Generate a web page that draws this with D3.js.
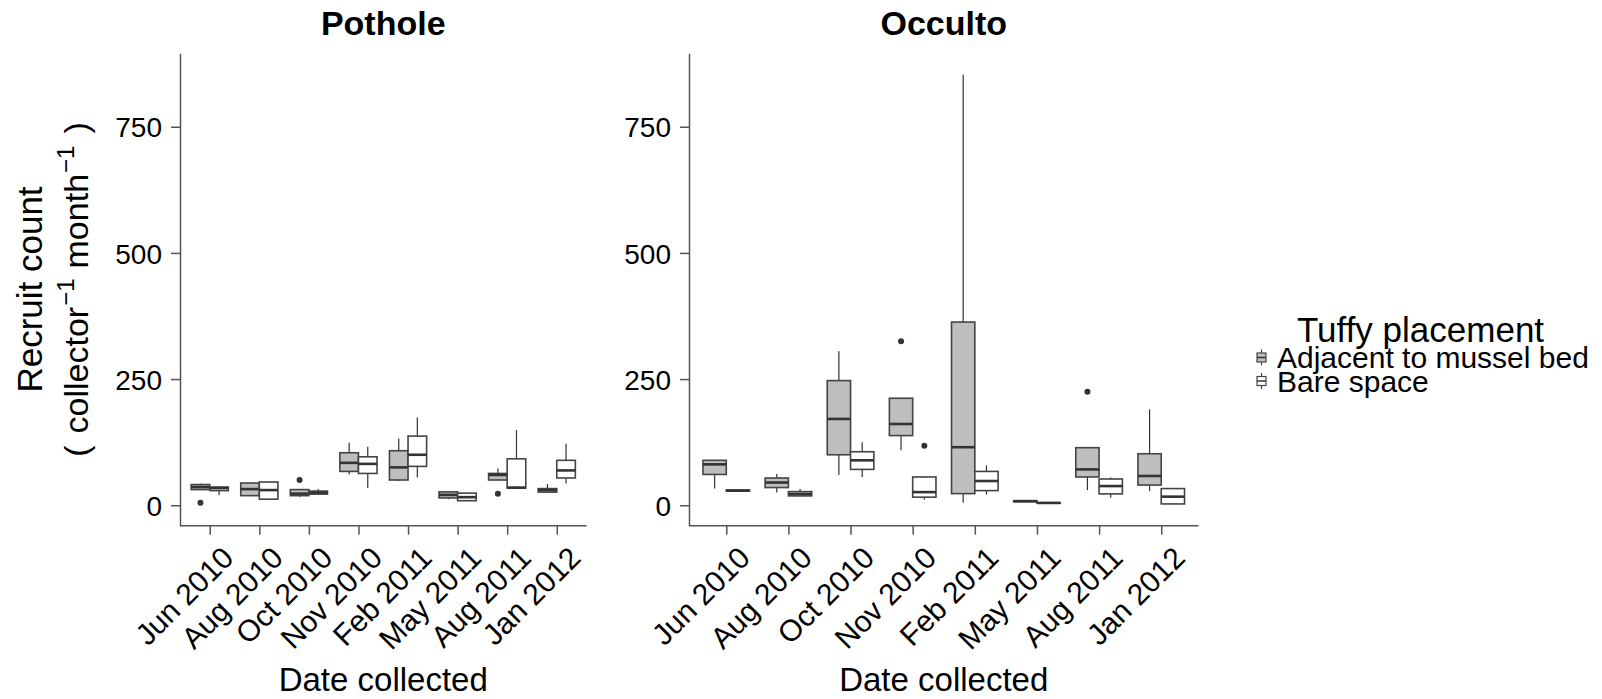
<!DOCTYPE html>
<html>
<head>
<meta charset="utf-8">
<script src="https://cdn.jsdelivr.net/npm/d3@7"></script>
<style>
  html, body { margin: 0; padding: 0; background: #fff; }
  svg { display: block; font-family: "Liberation Sans", Arial, sans-serif; }
</style>
</head>
<body>
<svg id="chart" width="1602" height="699"></svg>
<script>
// Collection dates (x categories)
const dates = ["Jun 2010", "Aug 2010", "Oct 2010", "Nov 2010", "Feb 2011", "May 2011", "Aug 2011", "Jan 2012"];
const groups = ["Adjacent to mussel bed", "Bare space"];
const yTicks = [0, 250, 500, 750];

// Box statistics per date: [lower whisker, Q1, median, Q3, upper whisker]
const potholeAdjacent = [
  [31, 31, 36, 41, 43], [18, 19, 32, 44, 45], [16.5, 19, 23, 31, 31], [61, 67, 84, 104, 124],
  [48, 50, 75, 108, 132], [12, 14.5, 20.5, 26.5, 28], [50, 50, 60, 63, 73], [26, 26, 30, 33, 42]
];
const potholeBare = [
  [20, 29, 34, 36, 37], [12, 12, 30, 46, 46], [22, 22, 25, 28, 32], [34, 63, 82, 96, 116],
  [55, 77, 100, 137, 174], [9, 9, 16, 24, 25], [34, 34, 35, 92, 149], [43, 54, 69, 89, 122]
];
const occultoAdjacent = [
  [33, 61, 81, 89, 89], [25, 35, 45, 54, 62], [60, 100, 171, 247, 305], [109, 138, 161, 212, 212],
  [5, 23, 115, 363, 853], [7, 7, 8, 9, 9], [30, 56, 71, 114, 114], [28, 40, 58, 102, 190]
];
const occultoBare = [
  [28, 28, 29, 30, 30], [18, 18.5, 22.5, 27, 32], [56, 71, 89, 106, 125], [11, 16, 26, 56, 56],
  [21, 29, 48, 67, 79], [4, 4, 4.6, 5, 5], [15, 22.5, 38, 52, 55], [2, 2.6, 17, 33, 34]
];

// Outlying points: [date, group index, value]
const potholeOutliers = [["Jun 2010", 0, 5], ["Oct 2010", 0, 50], ["Aug 2011", 0, 23]];
const occultoOutliers = [["Nov 2010", 0, 325], ["Nov 2010", 1, 118], ["Aug 2011", 0, 225]];

const fills = ["#bebebe", "#ffffff"];
const ink = "#333333";
const axisColor = "#555555";

const svg = d3.select("#chart");

// Shared y scale across both panels (5% expansion around the data range)
const allVals = [potholeAdjacent, potholeBare, occultoAdjacent, occultoBare].flat(2)
  .concat(potholeOutliers.map(d => d[2]), occultoOutliers.map(d => d[2]));
const yMin = d3.min(allVals), yMax = d3.max(allVals);
const yPad = (yMax - yMin) * 0.05;
const plotTop = 53.3, plotBottom = 525.7;
const y = d3.scaleLinear().domain([yMin - yPad, yMax + yPad]).range([plotBottom, plotTop]);

const panels = [
  { title: "Pothole", x0: 180, x1: 586.5, stats: [potholeAdjacent, potholeBare], outliers: potholeOutliers },
  { title: "Occulto", x0: 689, x1: 1198.5, stats: [occultoAdjacent, occultoBare], outliers: occultoOutliers }
];

panels.forEach(p => {
  const x = d3.scalePoint().domain(dates).range([p.x0, p.x1]).padding(0.6);
  const step = x.step();
  const bw = 0.375 * step;
  const offset = g => (g === 0 ? -1 : 1) * bw / 2;
  const g = svg.append("g");

  // Boxes
  p.stats.forEach((series, gi) => {
    const boxes = g.append("g").selectAll("g").data(series.map((s, i) => ({ date: dates[i], s })))
      .join("g")
      .attr("transform", d => `translate(${x(d.date) + offset(gi)},0)`);
    boxes.append("line").attr("x1", 0).attr("x2", 0)
      .attr("y1", d => y(d.s[4])).attr("y2", d => y(d.s[3]))
      .attr("stroke", ink).attr("stroke-width", 1.2);
    boxes.append("line").attr("x1", 0).attr("x2", 0)
      .attr("y1", d => y(d.s[1])).attr("y2", d => y(d.s[0]))
      .attr("stroke", ink).attr("stroke-width", 1.2);
    boxes.append("rect")
      .attr("x", -bw / 2).attr("width", bw)
      .attr("y", d => y(d.s[3])).attr("height", d => Math.max(0.5, y(d.s[1]) - y(d.s[3])))
      .attr("fill", fills[gi]).attr("stroke", "#444").attr("stroke-width", 1.6);
    boxes.append("line").attr("x1", -bw / 2).attr("x2", bw / 2)
      .attr("y1", d => y(d.s[2])).attr("y2", d => y(d.s[2]))
      .attr("stroke", ink).attr("stroke-width", 2.6);
  });

  // Outliers
  g.append("g").selectAll("circle").data(p.outliers).join("circle")
    .attr("cx", d => x(d[0]) + offset(d[1]))
    .attr("cy", d => y(d[2]))
    .attr("r", 3).attr("fill", ink);

  // Y axis
  const ya = g.append("g").attr("transform", `translate(${p.x0},0)`)
    .call(d3.axisLeft(y).tickValues(yTicks).tickSize(9).tickSizeOuter(0).tickPadding(9));
  ya.select(".domain").attr("stroke", axisColor).attr("stroke-width", 1.5);
  ya.selectAll(".tick line").attr("stroke", axisColor).attr("stroke-width", 1.5);
  ya.selectAll(".tick text").attr("fill", "#000").style("font-size", "28px")
    .attr("dy", "0.36em");
  ya.attr("font-family", null);

  // X axis with labels turned 45 degrees
  const xa = g.append("g").attr("transform", `translate(0,${plotBottom})`)
    .call(d3.axisBottom(x).tickSize(9).tickSizeOuter(0));
  xa.select(".domain").attr("stroke", axisColor).attr("stroke-width", 1.5)
    .attr("d", `M${p.x0},0H${p.x1}`);
  xa.selectAll(".tick line").attr("stroke", axisColor).attr("stroke-width", 1.5);
  xa.selectAll(".tick text")
    .attr("fill", "#000").style("font-size", "30px")
    .attr("text-anchor", "end")
    .attr("x", null).attr("y", null).attr("dy", null)
    .attr("transform", "translate(25,34) rotate(-45)");
  xa.attr("font-family", null);

  // Facet title
  svg.append("text")
    .attr("x", (p.x0 + p.x1) / 2).attr("y", 35)
    .attr("text-anchor", "middle")
    .style("font-size", "34px").style("font-weight", "bold")
    .text(p.title);

  // X axis title
  svg.append("text")
    .attr("x", (p.x0 + p.x1) / 2).attr("y", 691)
    .attr("text-anchor", "middle")
    .style("font-size", "33px")
    .text("Date collected");
});

// Y axis title (two lines)
const yMid = (plotTop + plotBottom) / 2;
svg.append("text")
  .attr("transform", `translate(41.7,${yMid}) rotate(-90)`)
  .attr("text-anchor", "middle")
  .style("font-size", "35px")
  .text("Recruit count");
const yt2 = svg.append("text")
  .attr("transform", `translate(88,${yMid}) rotate(-90)`)
  .attr("text-anchor", "middle")
  .style("font-size", "34px");
yt2.append("tspan").text("(");
yt2.append("tspan").attr("dx", 12).text("collector");
yt2.append("tspan").attr("dy", -14).attr("dx", 1).style("font-size", "24px").text("\u22121");
yt2.append("tspan").attr("dy", 14).attr("dx", 10).text("month");
yt2.append("tspan").attr("dy", -14).attr("dx", 1).style("font-size", "24px").text("\u22121");
yt2.append("tspan").attr("dy", 14).attr("dx", 12).text(")");

// Legend
const legend = svg.append("g");
legend.append("text").attr("x", 1297).attr("y", 342)
  .style("font-size", "35px").text("Tuffy placement");
const keyY = [357.5, 381];
groups.forEach((name, i) => {
  const k = legend.append("g").attr("transform", `translate(1261.5,${keyY[i]})`);
  k.append("line").attr("x1", 0).attr("x2", 0).attr("y1", -8).attr("y2", 8)
    .attr("stroke", ink).attr("stroke-width", 1);
  k.append("rect").attr("x", -4.5).attr("y", -4.5).attr("width", 9).attr("height", 9)
    .attr("fill", fills[i]).attr("stroke", "#444").attr("stroke-width", 1.2);
  k.append("line").attr("x1", -4.5).attr("x2", 4.5).attr("y1", 0).attr("y2", 0)
    .attr("stroke", ink).attr("stroke-width", 1.5);
  legend.append("text").attr("x", 1277).attr("y", keyY[i] + 10.5)
    .style("font-size", "30px").text(name);
});
</script>
</body>
</html>
